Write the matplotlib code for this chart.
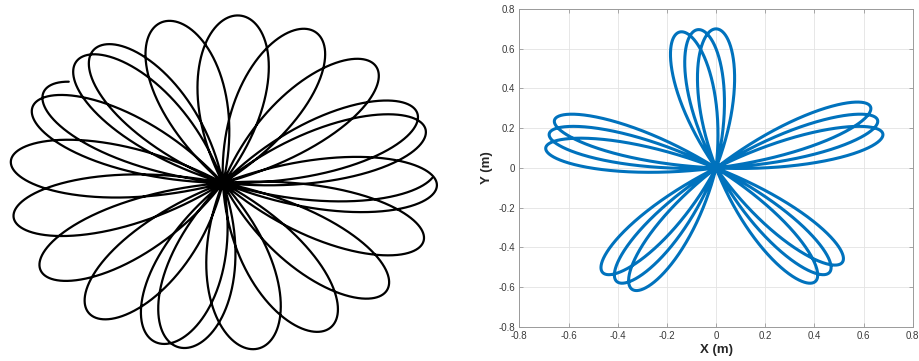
import numpy as np
import matplotlib.pyplot as plt

# Rose-type trajectories r = A*cos(k*theta), traced from phase phi_start to phi_end (phi = k*theta)
# left: free precessing orbit (black sketch, no axes)
left_amplitude = 1.0
left_k = 180.0 / 53.3           # petal step slightly off 54 deg -> slow precession
left_rotation_deg = 146.0       # tip direction of the first petal
left_phase_deg = [-20.0, 21 * 180.0 - 12.0]   # start / end phase

# right: measured XY path, three laps of a 5-petal rose
right_amplitude = 0.7
right_k = 180.0 / 34.8          # petals step back 6 deg per lap
right_rotation_deg = 102.0
right_phase_deg = [-90.0, 15 * 180.0 - 90.0]

ticks = [-0.8, -0.6, -0.4, -0.2, 0, 0.2, 0.4, 0.6, 0.8]
tick_labels = ['-0.8', '-0.6', '-0.4', '-0.2', '0', '0.2', '0.4', '0.6', '0.8']


def rose(amp, k, rot_deg, phase_deg, n=20000):
    phi = np.radians(np.linspace(phase_deg[0], phase_deg[1], n))
    theta = phi / k + np.radians(rot_deg)
    r = amp * np.cos(phi)
    return r * np.cos(theta), r * np.sin(theta)


plt.rcParams['font.family'] = ['Liberation Sans', 'DejaVu Sans']

fig = plt.figure(figsize=(9.2, 3.61), dpi=100)

# left panel
ax1 = fig.add_axes([0.0028, 0.0044, 0.4791, 0.9773])
xl, yl = rose(left_amplitude, left_k, left_rotation_deg, left_phase_deg)
ax1.plot(xl, yl, color='black', lw=1.6, solid_capstyle='round')
ax1.set_xlim(-1.03, 1.03)
ax1.set_ylim(-1.05, 1.05)
ax1.axis('off')

# right panel
ax2 = fig.add_axes([0.5645, 0.0942, 0.4276, 0.8809])
xr, yr = rose(right_amplitude, right_k, right_rotation_deg, right_phase_deg)
ax2.plot(xr, yr, color='#0072bd', lw=2.2)
ax2.set_xlim(-0.8, 0.8)
ax2.set_ylim(-0.8, 0.8)
ax2.set_xticks(ticks)
ax2.set_yticks(ticks)
ax2.set_xticklabels(tick_labels)
ax2.set_yticklabels(tick_labels)
ax2.grid(True, color='#e3e3e3', lw=0.6)
ax2.set_axisbelow(True)
for s in ax2.spines.values():
    s.set_color('#9a9a9a')
    s.set_linewidth(0.7)
ax2.tick_params(direction='in', length=3, width=0.6, color='#9a9a9a',
                labelsize=7, labelcolor='#3a3a3a', pad=3,
                top=True, right=True)
ax2.set_xlabel('X (m)', fontsize=9.5, fontweight='bold', color='#262626', labelpad=2)
ax2.set_ylabel('Y (m)', fontsize=9.5, fontweight='bold', color='#262626', labelpad=4)

fig.savefig('out.png', dpi=100)
